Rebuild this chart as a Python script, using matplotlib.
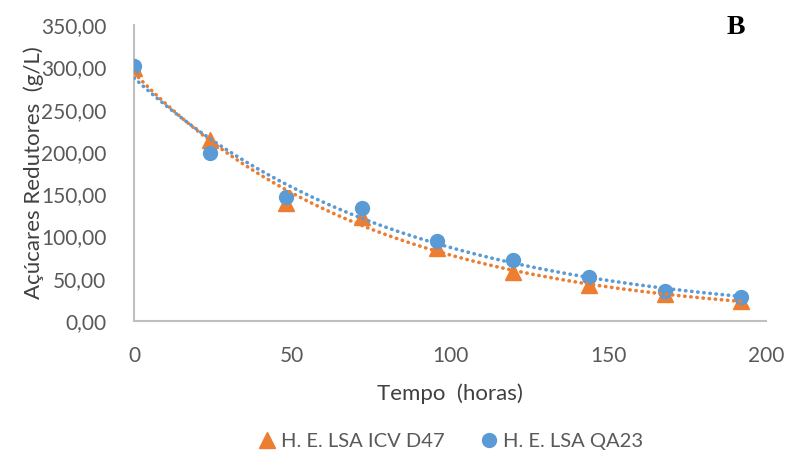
import matplotlib.pyplot as plt
import numpy as np

# time points (hours) and reducing sugars (g/L)
tempo = [0, 24, 48, 72, 96, 120, 144, 168, 192]
icv_d47 = [299.0, 214.0, 139.5, 123.0, 86.0, 58.0, 42.5, 32.0, 23.0]
qa23 = [301.8, 199.0, 147.0, 133.5, 95.0, 72.0, 52.4, 35.8, 28.8]

ORANGE = "#ED7D31"
BLUE = "#5B9BD5"
GREY = "#595959"

plt.rcParams['font.family'] = ['Lato', 'DejaVu Sans']

fig = plt.figure(figsize=(7.89, 4.5), dpi=100)
ax = fig.add_axes([0.170, 0.287, 0.801, 0.657])

t = np.array(tempo, dtype=float)
ax.plot(t, icv_d47, linestyle='none', marker='^', markersize=11,
        color=ORANGE, label='H. E. LSA ICV D47', zorder=2)
ax.plot(t, qa23, linestyle='none', marker='o', markersize=10,
        color=BLUE, label='H. E. LSA QA23', zorder=3)

# exponential trend lines, like excel does
tt = np.linspace(t.min(), t.max(), 300)
for serie, cor in [(icv_d47, ORANGE), (qa23, BLUE)]:
    b, ln_a = np.polyfit(t, np.log(serie), 1)
    ax.plot(tt, np.exp(ln_a) * np.exp(b * tt), linestyle=(0, (0.1, 1.6)),
            dash_capstyle='round', linewidth=2.6, color=cor, zorder=4)

ax.set_xlim(0, 200)
ax.set_ylim(0, 350)
ax.set_xticks([0, 50, 100, 150, 200])
ax.set_yticks(np.arange(0, 351, 50))
ax.set_yticklabels([f"{v:.2f}".replace('.', ',') for v in np.arange(0, 351, 50)])
ax.tick_params(length=0, labelsize=15, colors=GREY)
ax.tick_params(axis='y', pad=20)
ax.tick_params(axis='x', pad=18)

for s in ['top', 'right']:
    ax.spines[s].set_visible(False)
for s in ['left', 'bottom']:
    ax.spines[s].set_color('#BFBFBF')
    ax.spines[s].set_linewidth(1.5)

ax.set_xlabel('Tempo  (horas)', fontsize=16, color='#404040', labelpad=13)
ax.set_ylabel('Açúcares Redutores  (g/L)', fontsize=16, color='#404040', labelpad=-2)

fig.text(0.932, 0.94, 'B', fontsize=20, fontweight='bold',
         family='Liberation Serif', ha='center', va='center')

fig.legend(loc='center', bbox_to_anchor=(0.572, 0.02), ncol=2, frameon=False,
           fontsize=14.5, handlelength=0.8, handletextpad=0.3, columnspacing=1.8,
           labelcolor=GREY)

fig.savefig('out.png', dpi=100)
